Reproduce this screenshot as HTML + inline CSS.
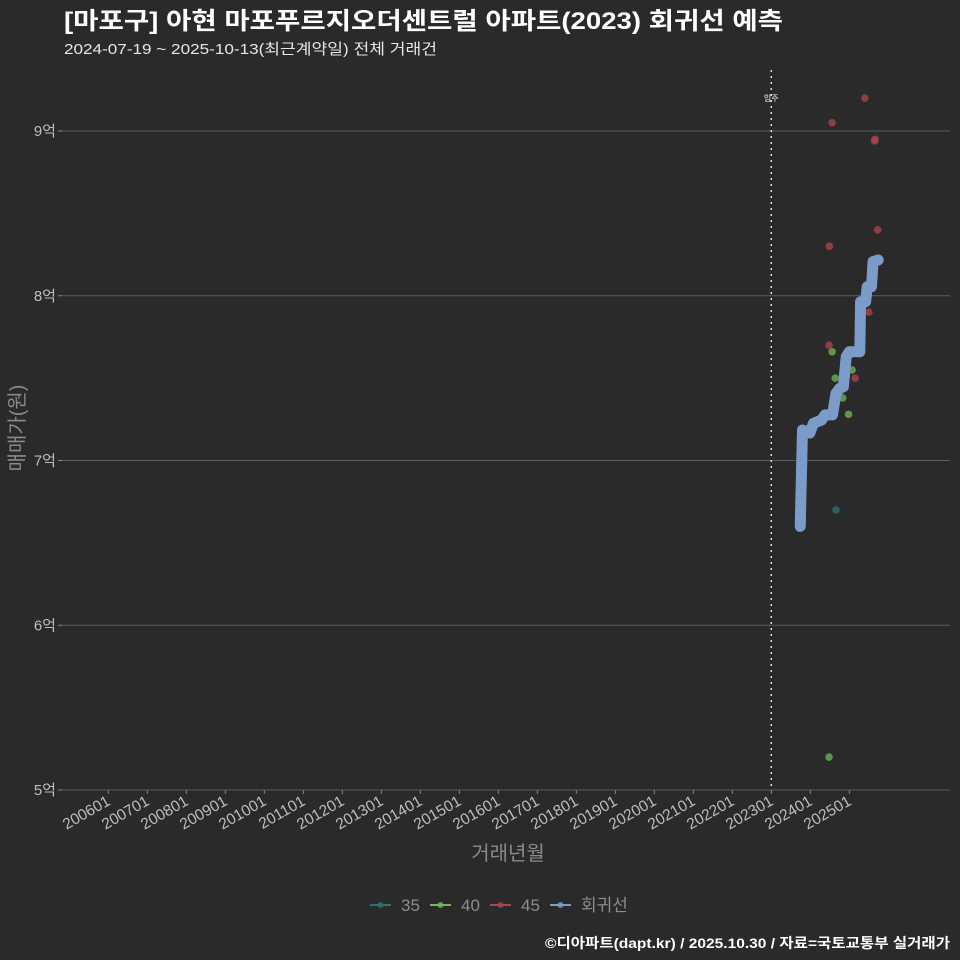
<!DOCTYPE html>
<html><head><meta charset="utf-8">
<style>
html,body{margin:0;padding:0;background:#2a2a2b;}
svg{display:block;font-family:"Liberation Sans","Noto Sans CJK KR",sans-serif;}
</style></head>
<body>
<svg id="chart" width="960" height="960" viewBox="0 0 960 960">
<rect width="960" height="960" fill="#2a2a2b"/>
<text x="64" y="29" font-size="24" font-weight="bold" fill="#ffffff" textLength="719" lengthAdjust="spacingAndGlyphs">[마포구] 아현 마포푸르지오더센트럴 아파트(2023) 회귀선 예측</text>
<text x="64" y="54" font-size="15" fill="#e6e6e6" textLength="373" lengthAdjust="spacingAndGlyphs">2024-07-19 ~ 2025-10-13(최근계약일) 전체 거래건</text>
<g id="grid"></g>
<g id="axes"></g>
<g id="marks"></g>
<text x="24" y="428" font-size="20" fill="#8a8a8a" text-anchor="middle" transform="rotate(-90 24 428)">매매가(원)</text>
<text x="508" y="860" font-size="20" fill="#8a8a8a" text-anchor="middle">거래년월</text>
<g id="legend"></g>
<text x="950" y="948" font-size="14" font-weight="bold" fill="#ffffff" text-anchor="end" textLength="405" lengthAdjust="spacingAndGlyphs">©디아파트(dapt.kr) / 2025.10.30 / 자료=국토교통부 실거래가</text>
</svg>
<script>
const yTicks = [5, 6, 7, 8, 9];
const yTickLabels = ["5억", "6억", "7억", "8억", "9억"];
const xTickYears = [2006,2007,2008,2009,2010,2011,2012,2013,2014,2015,2016,2017,2018,2019,2020,2021,2022,2023,2024,2025];
const xTickLabels = ["200601","200701","200801","200901","201001","201101","201201","201301","201401","201501","201601","201701","201801","201901","202001","202101","202201","202301","202401","202501"];
const moveInDate = 2023.0;
const pointDates = [2025.40,2024.56,2025.65,2025.66,2025.73,2024.49,2024.48,2024.56,2025.07,2025.15,2024.64,2024.83,2024.98,2025.50,2024.66,2024.48];
const pointValues = [9.20,9.05,8.94,8.95,8.40,8.30,7.70,7.66,7.55,7.50,7.50,7.38,7.28,7.90,6.70,5.20];
const pointTypes = ["45","45","45","45","45","45","45","40","40","45","40","40","40","45","35","40"];
const regDates = [2023.74,2023.80,2023.99,2024.08,2024.29,2024.38,2024.57,2024.66,2024.76,2024.85,2024.92,2025.00,2025.27,2025.29,2025.42,2025.46,2025.57,2025.61,2025.74];
const regValues = [6.60,7.185,7.167,7.226,7.246,7.277,7.277,7.408,7.438,7.448,7.63,7.66,7.66,7.964,7.964,8.055,8.055,8.207,8.217];
const legendKeys = ["35","40","45","회귀선"];

const colors = {"35":"#2e7172","40":"#72b85a","45":"#b0444c","회귀선":"#7b9cc9"};
const NS = "http://www.w3.org/2000/svg";
const X0 = 62, X1 = 950, Y0 = 65, Y1 = 790;
function xs(d){ return 108.3 + (d - 2006) * 39; }
function ys(v){ return 790 - (v - 5) * 164.75; }
function mk(tag, attrs, parent){ const e = document.createElementNS(NS, tag); for (const k in attrs) e.setAttribute(k, attrs[k]); parent.appendChild(e); return e; }

const grid = document.getElementById('grid'), axes = document.getElementById('axes'), marks = document.getElementById('marks'), legend = document.getElementById('legend');
yTicks.forEach((t, i) => {
  const l = mk('line', {x1:X0, x2:X1, y1:ys(t), y2:ys(t), stroke:'#5c5c5c', 'stroke-width':1}, grid);
  
  
  const tk = mk('line', {x1:X0-4, x2:X0, y1:ys(t), y2:ys(t), stroke:'#888', 'stroke-width':1}, axes);
  
  
  const tx = mk('text', {x:X0-6, y:ys(t)+5, 'font-size':15, fill:'#bdbdbd', 'text-anchor':'end'}, axes);
  tx.textContent = yTickLabels[i];
  
  
});
xTickYears.forEach((d, i) => {
  const x = xs(d);
  const tk = mk('line', {x1:x, x2:x, y1:Y1, y2:Y1+4, stroke:'#888', 'stroke-width':1}, axes);
  
  
  const tx = mk('text', {x:x+3, y:Y1+14, 'font-size':15.5, fill:'#bdbdbd', 'text-anchor':'end', transform:`rotate(-30 ${x+3} ${Y1+14})`}, axes);
  tx.textContent = xTickLabels[i];
  
  
});
const mv = mk('line', {x1:xs(moveInDate), x2:xs(moveInDate), y1:Y0+5, y2:Y1, stroke:'#dddddd', 'stroke-width':1.5, 'stroke-dasharray':'2,4'}, marks);


const mvt = mk('text', {x:xs(moveInDate), y:101, 'font-size':8, fill:'#ffffff', 'text-anchor':'middle'}, marks);
mvt.textContent = '입주';


pointDates.forEach((d, i) => {
  const c = mk('circle', {cx:xs(d), cy:ys(pointValues[i]), r:3.8, fill:colors[pointTypes[i]], 'fill-opacity':0.75}, marks);
  
  
});
const pts = regDates.map((d, i) => xs(d).toFixed(1) + ',' + ys(regValues[i]).toFixed(1)).join(' ');
const pl = mk('polyline', {points:pts, fill:'none', stroke:colors['회귀선'], 'stroke-width':11, 'stroke-linecap':'round', 'stroke-linejoin':'round'}, marks);


const lx = [370, 430, 490, 550];
legendKeys.forEach((k, i) => {
  const g = mk('g', {}, legend);
  
  
  mk('line', {x1:lx[i], x2:lx[i]+21, y1:905, y2:905, stroke:colors[k], 'stroke-width':2}, g);
  mk('circle', {cx:lx[i]+10.5, cy:905, r:3, fill:colors[k], 'fill-opacity':0.8}, g);
  const t = mk('text', {x:lx[i]+31, y:911, 'font-size':17, fill:'#8c8c8c'}, g);
  t.textContent = k;
});
</script>
</body></html>
